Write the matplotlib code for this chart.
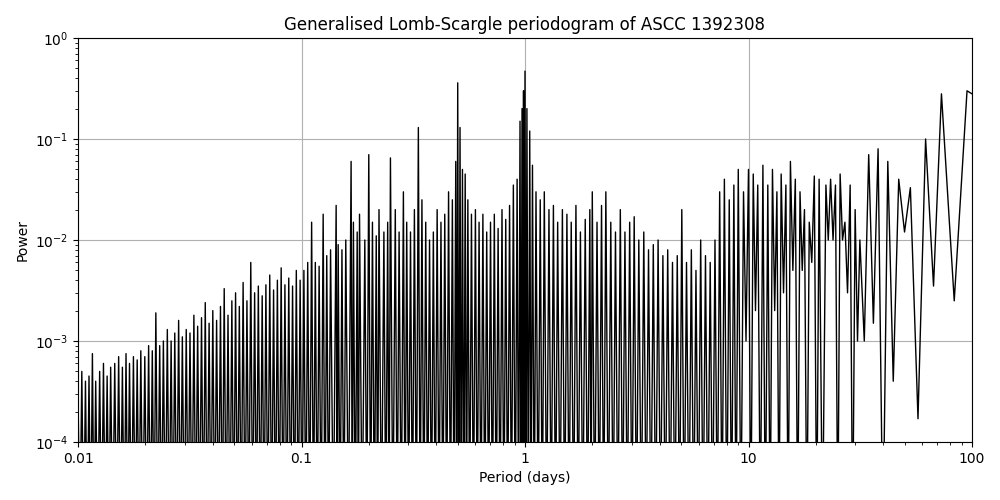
import matplotlib.pyplot as plt
from matplotlib.ticker import FixedLocator, FixedFormatter

# Spike maxima (period in days, power),
# each followed by the trough value reached before the next spike.
PERIODS = [
    0.0100, 0.0104, 0.0108, 0.0112, 0.0116, 0.0120, 0.0125, 0.0130, 0.0135, 0.0140,
    0.0146, 0.0152, 0.0158, 0.0164, 0.0170, 0.0177, 0.0184, 0.0191, 0.0199, 0.0207,
    0.0215, 0.0223, 0.0232, 0.0241, 0.0251, 0.0261, 0.0271, 0.0282, 0.0293, 0.0305,
    0.0317, 0.0330, 0.0343, 0.0357, 0.0371, 0.0386, 0.0401, 0.0417, 0.0434, 0.0451,
    0.0469, 0.0488, 0.0507, 0.0527, 0.0548, 0.0570, 0.0593, 0.0617, 0.0641, 0.0667,
    0.0693, 0.0721, 0.0750, 0.0780, 0.0811, 0.0843, 0.0877, 0.0912, 0.0948, 0.0986,
    0.1025, 0.1066, 0.1110, 0.1153, 0.1199, 0.1250, 0.1297, 0.1349, 0.1429, 0.1459,
    0.1517, 0.1578, 0.1667, 0.1707, 0.1775, 0.1818, 0.1920, 0.2000, 0.2077, 0.2160,
    0.2222, 0.2337, 0.2430, 0.2500, 0.2628, 0.2733, 0.2857, 0.2956, 0.3074, 0.3200,
    0.3333, 0.3458, 0.3596, 0.3740, 0.3890, 0.4045, 0.4207, 0.4375, 0.4550, 0.4732,
    0.4900, 0.5000, 0.5120, 0.5250, 0.5400, 0.5550, 0.5760, 0.6000, 0.6230, 0.6480,
    0.6740, 0.7010, 0.7290, 0.7580, 0.7890, 0.8200, 0.8530, 0.8870, 0.9220, 0.9500,
    0.9700, 0.9850, 1.0000, 1.0200, 1.0500, 1.0800, 1.1200, 1.1700, 1.2200, 1.2800,
    1.3400, 1.4000, 1.4700, 1.5400, 1.6100, 1.6900, 1.7700, 1.8600, 1.9500, 2.0000,
    2.1000, 2.2000, 2.3000, 2.4200, 2.5400, 2.6700, 2.8000, 2.9400, 3.0800, 3.2300,
    3.4000, 3.5700, 3.7500, 3.9400, 4.1400, 4.3500, 4.5700, 4.8000, 5.0300, 5.2800,
    5.5500, 5.8200, 6.1100, 6.4200, 6.7400, 7.0800, 7.4300, 7.8000, 8.2000, 8.6000,
    9.0000, 9.5000, 10.000, 10.500, 11.000, 11.600, 12.200, 12.800, 13.400, 14.000,
    14.700, 15.400, 16.200, 17.000, 17.800, 18.700, 19.700, 20.700, 22.200, 23.300,
    24.500, 25.700, 27.000, 28.500, 30.000, 31.500, 34.500, 38.000,
    42.000, 47.000, 53.000, 62.000, 73.000, 95.000, 100.00,
]
PEAKS = [
    3.0e-4, 5.0e-4, 4.0e-4, 4.5e-4, 7.5e-4, 4.0e-4, 5.0e-4, 6.0e-4, 4.5e-4, 5.5e-4,
    6.0e-4, 7.0e-4, 5.5e-4, 7.5e-4, 6.0e-4, 7.0e-4, 6.5e-4, 8.0e-4, 7.0e-4, 9.0e-4,
    8.0e-4, 1.9e-3, 9.0e-4, 1.0e-3, 1.3e-3, 1.0e-3, 1.2e-3, 1.6e-3, 1.1e-3, 1.3e-3,
    1.2e-3, 1.8e-3, 1.4e-3, 1.7e-3, 2.4e-3, 1.5e-3, 2.0e-3, 1.6e-3, 2.2e-3, 3.3e-3,
    1.8e-3, 2.5e-3, 3.0e-3, 2.2e-3, 3.8e-3, 2.5e-3, 6.0e-3, 3.0e-3, 3.5e-3, 2.8e-3,
    3.6e-3, 4.5e-3, 3.2e-3, 4.0e-3, 5.3e-3, 3.6e-3, 4.2e-3, 3.5e-3, 5.0e-3, 4.0e-3,
    5.0e-3, 6.0e-3, 1.5e-2, 6.0e-3, 5.5e-3, 1.8e-2, 7.0e-3, 8.0e-3, 2.2e-2, 9.0e-3,
    8.0e-3, 1.0e-2, 6.0e-2, 1.5e-2, 1.2e-2, 1.8e-2, 1.0e-2, 7.0e-2, 1.5e-2, 1.1e-2,
    2.0e-2, 1.2e-2, 1.5e-2, 6.5e-2, 2.0e-2, 1.2e-2, 3.0e-2, 1.5e-2, 1.2e-2, 2.0e-2,
    1.3e-1, 2.5e-2, 1.5e-2, 1.0e-2, 1.2e-2, 2.0e-2, 1.5e-2, 1.8e-2, 3.0e-2, 2.5e-2,
    6.0e-2, 3.6e-1, 1.3e-1, 5.0e-2, 4.5e-2, 2.5e-2, 1.8e-2, 2.0e-2, 1.5e-2, 1.8e-2,
    1.2e-2, 1.5e-2, 1.8e-2, 1.3e-2, 2.0e-2, 1.6e-2, 2.2e-2, 3.5e-2, 4.0e-2, 1.5e-1,
    2.0e-1, 3.0e-1, 4.7e-1, 2.0e-1, 1.2e-1, 5.5e-2, 3.0e-2, 2.5e-2, 3.0e-2, 2.0e-2,
    2.2e-2, 1.5e-2, 2.0e-2, 1.8e-2, 1.5e-2, 2.2e-2, 1.2e-2, 1.6e-2, 2.0e-2, 3.0e-2,
    1.5e-2, 2.2e-2, 3.0e-2, 1.5e-2, 1.2e-2, 2.0e-2, 1.2e-2, 1.5e-2, 1.7e-2, 1.0e-2,
    1.2e-2, 8.0e-3, 9.0e-3, 1.0e-2, 7.0e-3, 8.0e-3, 6.0e-3, 7.0e-3, 2.0e-2, 6.0e-3,
    8.0e-3, 5.0e-3, 1.0e-2, 7.0e-3, 6.0e-3, 1.0e-2, 3.0e-2, 4.0e-2, 2.5e-2, 3.5e-2,
    5.0e-2, 3.0e-2, 5.0e-2, 4.5e-2, 3.5e-2, 5.5e-2, 3.5e-2, 5.0e-2, 3.0e-2, 4.5e-2,
    3.5e-2, 6.0e-2, 4.0e-2, 3.0e-2, 2.0e-2, 1.5e-2, 4.3e-2, 4.0e-2, 3.5e-2, 4.0e-2,
    3.5e-2, 4.5e-2, 1.5e-2, 3.5e-2, 2.0e-2, 1.0e-2, 7.0e-2, 8.0e-2,
    6.0e-2, 4.0e-2, 3.3e-2, 1.0e-1, 2.8e-1, 3.0e-1, 2.8e-1,
]
TROUGHS = [
    1e-5, 1e-5, 1e-5, 1e-5, 1e-5, 1e-5, 1e-5, 1e-5, 1e-5, 1e-5,
    1e-5, 1e-5, 1e-5, 1e-5, 1e-5, 1e-5, 1e-5, 1e-5, 1e-5, 1e-5,
    1e-5, 1e-5, 1e-5, 1e-5, 1e-5, 1e-5, 1e-5, 1e-5, 1e-5, 1e-5,
    1e-5, 1e-5, 1e-5, 1e-5, 1e-5, 1e-5, 1e-5, 1e-5, 1e-5, 1e-5,
    1e-5, 1e-5, 1e-5, 1e-5, 1e-5, 1e-5, 1e-5, 1e-5, 1e-5, 1e-5,
    1e-5, 1e-5, 1e-5, 1e-5, 1e-5, 1e-5, 1e-5, 1e-5, 1e-5, 1e-5,
    1e-5, 1e-5, 1e-5, 1e-5, 1e-5, 1e-5, 1e-5, 1e-5, 1e-5, 1e-5,
    1e-5, 1e-5, 1e-5, 1e-5, 1e-5, 1e-5, 1e-5, 1e-5, 1e-5, 1e-5,
    1e-5, 1e-5, 1e-5, 1e-5, 1e-5, 1e-5, 1e-5, 1e-5, 1e-5, 1e-5,
    1e-5, 1e-5, 1e-5, 1e-5, 1e-5, 1e-5, 1e-5, 1e-5, 1e-5, 1e-5,
    1e-5, 1e-5, 1e-5, 1e-5, 1e-5, 1e-5, 1e-5, 1e-5, 1e-5, 1e-5,
    1e-5, 1e-5, 1e-5, 1e-5, 1e-5, 1e-5, 1e-5, 1e-5, 1e-5, 1e-5,
    1e-5, 1e-5, 1e-5, 1e-5, 1e-5, 1e-5, 1e-5, 1e-5, 1e-5, 1e-5,
    1e-5, 1e-5, 1e-5, 1e-5, 1e-5, 1e-5, 1e-5, 1e-5, 1e-5, 1e-5,
    1e-5, 1e-5, 1e-5, 1e-5, 1e-5, 1e-5, 1e-5, 1e-5, 1e-5, 1e-5,
    1e-5, 1e-5, 1e-5, 1e-5, 1e-5, 1e-5, 1e-5, 1e-5, 1e-5, 1e-5,
    1e-5, 1e-5, 1e-5, 1e-5, 1e-5, 1e-5, 1e-5, 1e-5, 1e-5, 1e-5,
    1e-5, 1e-3, 1e-5, 2e-3, 1e-5, 1e-5, 1e-5, 2e-3, 1e-5, 3e-3,
    1e-5, 5e-3, 1e-5, 5e-3, 1e-5, 6e-3, 1e-5, 1e-5, 1e-2, 1e-2,
    1e-5, 1e-2, 3e-3, 1e-5, 1e-3, 1e-3, 1.5e-3, 1e-5,
    4e-4, 1.2e-2, 1.7e-4, 3.5e-3, 2.5e-3, 2.9e-1, 1e-5,
]

TICKS = [0.01, 0.1, 1, 10, 100]
TICK_LABELS = ["0.01", "0.1", "1", "10", "100"]


def main() -> None:
    xs, ys = [], []
    for i, (p, pk, tr) in enumerate(zip(PERIODS, PEAKS, TROUGHS)):
        xs.append(p)
        ys.append(pk)
        if i + 1 < len(PERIODS):
            nxt = PERIODS[i + 1]
            xs.append((p * nxt) ** 0.5)
            ys.append(tr)

    fig, ax = plt.subplots(figsize=(10, 5), dpi=100)
    ax.plot(xs, ys, color="black", linewidth=1)
    ax.set_xscale("log")
    ax.set_yscale("log")
    ax.set_xlim(0.01, 100)
    ax.set_ylim(1e-4, 1)
    ax.xaxis.set_major_locator(FixedLocator(TICKS))
    ax.xaxis.set_major_formatter(FixedFormatter(TICK_LABELS))
    ax.grid(True, which="major")
    ax.set_xlabel("Period (days)")
    ax.set_ylabel("Power")
    ax.set_title("Generalised Lomb-Scargle periodogram of ASCC 1392308")
    fig.subplots_adjust(left=0.078, right=0.972, top=0.924, bottom=0.116)
    fig.savefig("out.png")


if __name__ == "__main__":
    main()
